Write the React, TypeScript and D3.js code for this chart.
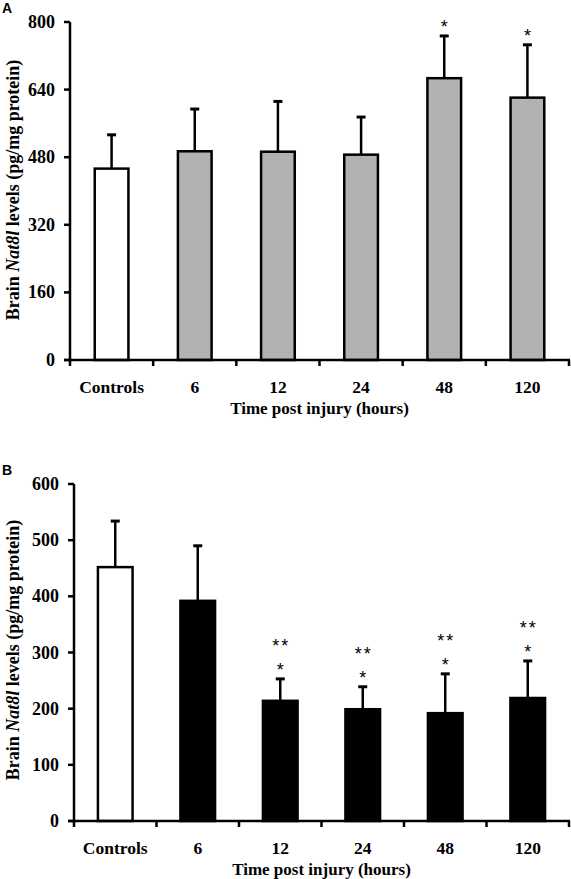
import React from "react";
import * as d3 from "d3";

const categories = ["Controls", "6", "12", "24", "48", "120"];

// Panel A
const meansA = [453, 494, 493, 486, 667, 621];
const errTopA = [533, 594, 612, 575, 767, 746];
const starsA = ["", "", "", "", "*", "*"];
const starsA2 = ["", "", "", "", "", ""];
const ticksA = [0, 160, 320, 480, 640, 800];

// Panel B
const meansB = [452, 392, 214, 199, 192, 219];
const errTopB = [534, 490, 253, 239, 262, 285];
const starsB = ["", "", "*", "*", "*", "*"];
const starsB2 = ["", "", "**", "**", "**", "**"];
const ticksB = [0, 100, 200, 300, 400, 500, 600];

const SERIF = "'Liberation Serif', 'Times New Roman', serif";
const SANS = "'Liberation Sans', Arial, sans-serif";

type PanelProps = {
  letter: string;
  letterY: number;
  means: number[];
  errTop: number[];
  stars: string[];
  stars2: string[];
  ticks: number[];
  yMax: number;
  x0: number;
  x1: number;
  yTop: number;
  yBottom: number;
  fill: string;
  labelCenterY: number;
  catY: number;
  titleY: number;
  barRatio: number;
};

function Panel(p: PanelProps) {
  const x = d3.scaleBand<string>().domain(categories).range([p.x0, p.x1]).padding(0);
  const y = d3.scaleLinear().domain([0, p.yMax]).range([p.yBottom, p.yTop]);
  const bw = x.bandwidth() * p.barRatio;
  const boundaries = categories.map((c) => x(c) as number).concat([p.x1]);
  return (
    <g>
      <text x={2} y={p.letterY} fontFamily={SANS} fontWeight="bold" fontSize={14}>
        {p.letter}
      </text>
      {categories.map((c, i) => {
        const cx = (x(c) as number) + x.bandwidth() / 2;
        const top = y(p.means[i]);
        const et = y(p.errTop[i]);
        return (
          <g key={c}>
            <line x1={cx} x2={cx} y1={top} y2={et} stroke="#000" strokeWidth={2.5} />
            <line x1={cx - 4.5} x2={cx + 4.5} y1={et} y2={et} stroke="#000" strokeWidth={3} />
            <rect
              x={cx - bw / 2}
              y={top}
              width={bw}
              height={p.yBottom - top}
              fill={i === 0 ? "#fff" : p.fill}
              stroke="#000"
              strokeWidth={2.5}
            />
            {p.stars[i] && (
              <text x={cx} y={et - 12 + 9} textAnchor="middle" fontFamily={SANS} fontSize={18}>
                {p.stars[i]}
              </text>
            )}
            {p.stars2[i] && (
              <text x={cx + 1} y={et - 36 + 9} textAnchor="middle" fontFamily={SANS} fontSize={18} letterSpacing={2}>
                {p.stars2[i]}
              </text>
            )}
            <text
              x={cx}
              y={p.catY}
              textAnchor="middle"
              fontFamily={SERIF}
              fontWeight="bold"
              fontSize={17.5}
            >
              {c}
            </text>
          </g>
        );
      })}
      <line x1={p.x0} x2={p.x0} y1={p.yTop} y2={p.yBottom + 1.25} stroke="#000" strokeWidth={2.5} />
      {p.ticks.map((t) => (
        <g key={t}>
          <line x1={p.x0 - 6} x2={p.x0} y1={y(t)} y2={y(t)} stroke="#000" strokeWidth={2.5} />
          <text
            x={p.x0 - 15}
            y={y(t) + 6}
            textAnchor="end"
            fontFamily={SERIF}
            fontWeight="bold"
            fontSize={18}
          >
            {t}
          </text>
        </g>
      ))}
      <line x1={p.x0 - 6} x2={p.x1 + 1} y1={p.yBottom} y2={p.yBottom} stroke="#000" strokeWidth={2.5} />
      {boundaries.map((b, i) => (
        <line key={i} x1={b} x2={b} y1={p.yBottom} y2={p.yBottom + 6} stroke="#000" strokeWidth={2.5} />
      ))}
      <text
        x={(p.x0 + p.x1) / 2}
        y={p.titleY}
        textAnchor="middle"
        fontFamily={SERIF}
        fontWeight="bold"
        fontSize={17}
      >
        Time post injury (hours)
      </text>
      <text
        transform={`translate(19,${p.labelCenterY}) rotate(-90)`}
        textAnchor="middle"
        fontFamily={SERIF}
        fontWeight="bold"
        fontSize={18}
      >
        Brain <tspan fontStyle="italic">Nat8l</tspan> levels (pg/mg protein)
      </text>
    </g>
  );
}

export default function App() {
  return (
    <svg
      width={571}
      height={879}
      style={{ position: "absolute", left: 0, top: 0, background: "#fff" }}
    >
      <rect width={571} height={879} fill="#fff" />
      <Panel
        letter="A"
        letterY={13}
        means={meansA}
        errTop={errTopA}
        stars={starsA}
        stars2={starsA2}
        ticks={ticksA}
        yMax={800}
        x0={70}
        x1={569}
        yTop={22}
        yBottom={360}
        fill="#b2b2b2"
        labelCenterY={190}
        catY={393}
        titleY={414}
        barRatio={0.405}
      />
      <Panel
        letter="B"
        letterY={475}
        means={meansB}
        errTop={errTopB}
        stars={starsB}
        stars2={starsB2}
        ticks={ticksB}
        yMax={600}
        x0={74}
        x1={569}
        yTop={484}
        yBottom={821}
        fill="#000"
        labelCenterY={650}
        catY={854}
        titleY={875}
        barRatio={0.42}
      />
    </svg>
  );
}
